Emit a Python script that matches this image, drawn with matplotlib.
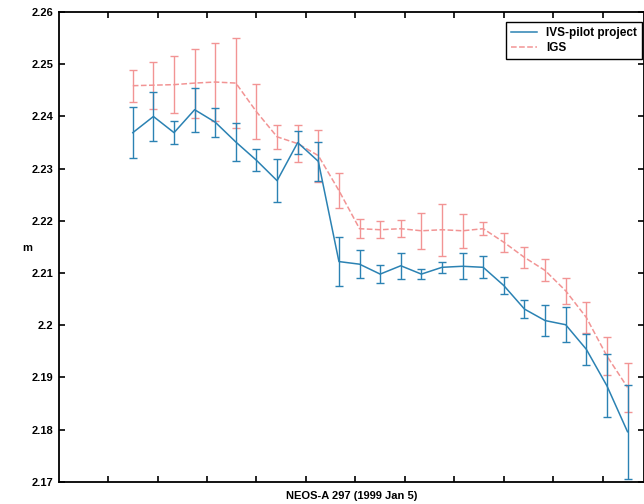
import matplotlib
matplotlib.use("Agg")
from matplotlib import pyplot as plt
from matplotlib.lines import Line2D

# epoch times in minutes, one estimate every 25 min
minutes = [90 + 25 * i for i in range(25)]

ivs_value = [2.2369, 2.2400, 2.2369, 2.2413, 2.2389, 2.2351, 2.2316, 2.2277,
             2.2350, 2.2314, 2.2122, 2.2117, 2.2098, 2.2114, 2.2098, 2.2111,
             2.2113, 2.2111, 2.2076, 2.2031, 2.2009, 2.2001, 2.1954, 2.1884,
             2.1796]
ivs_err = [0.0049, 0.0047, 0.0022, 0.0042, 0.0028, 0.0037, 0.0021, 0.0041,
           0.0022, 0.0038, 0.0047, 0.0027, 0.0018, 0.0025, 0.0009, 0.0010,
           0.0025, 0.0021, 0.0017, 0.0017, 0.0029, 0.0034, 0.0030, 0.0060,
           0.0090]

igs_value = [2.2459, 2.2460, 2.2461, 2.2464, 2.2466, 2.2464, 2.2409, 2.2361,
             2.2348, 2.2325, 2.2258, 2.2185, 2.2183, 2.2185, 2.2181, 2.2183,
             2.2181, 2.2185, 2.2159, 2.2130, 2.2105, 2.2066, 2.2015, 2.1941,
             2.1881]
igs_err = [0.0031, 0.0045, 0.0054, 0.0066, 0.0074, 0.0086, 0.0053, 0.0023,
           0.0036, 0.0050, 0.0034, 0.0018, 0.0016, 0.0016, 0.0034, 0.0050,
           0.0033, 0.0013, 0.0018, 0.0020, 0.0021, 0.0025, 0.0030, 0.0036,
           0.0047]

y_ticks = [2.17, 2.18, 2.19, 2.2, 2.21, 2.22, 2.23, 2.24, 2.25, 2.26]
y_tick_labels = ["2.17", "2.18", "2.19", "2.2", "2.21", "2.22", "2.23",
                 "2.24", "2.25", "2.26"]
x_ticks = [60 * k for k in range(1, 12)]

plt.rcParams["font.family"] = ["Liberation Sans", "DejaVu Sans"]
plt.rcParams["font.weight"] = "bold"

fig = plt.figure(figsize=(6.44, 5.04), dpi=100)
ax = fig.add_axes([0.091, 0.044, 0.909, 0.932])

blue = "#2b82b3"
red = "#f29494"

ax.errorbar(minutes, igs_value, yerr=igs_err, color=red, linestyle="--",
            linewidth=1.1, elinewidth=1.0, capsize=3, capthick=1.0, zorder=2)
ax.errorbar(minutes, ivs_value, yerr=ivs_err, color=blue, linestyle="-",
            linewidth=1.1, elinewidth=1.0, capsize=3, capthick=1.0, zorder=3)

ax.set_xlim(0, 710)
ax.set_ylim(2.17, 2.26)
ax.set_yticks(y_ticks)
ax.set_yticklabels(y_tick_labels, fontsize=8, fontweight="bold")
ax.set_xticks(x_ticks)
ax.set_xticklabels([])
ax.tick_params(direction="in", length=4, width=1.2, top=True, right=True)
for spine in ax.spines.values():
    spine.set_linewidth(1.3)

ax.set_xlabel("NEOS-A 297 (1999 Jan 5)", fontsize=8, fontweight="bold",
              labelpad=3)
ax.set_ylabel("m", fontsize=8, fontweight="bold", rotation=0)
ax.yaxis.set_label_coords(-0.054, 0.487)

# legend shows plain lines, box runs off the right edge like the scan
handles = [Line2D([], [], color=blue, linestyle="-", linewidth=1.1),
           Line2D([], [], color=red, linestyle="--", linewidth=1.1)]
leg = ax.legend(handles, ["IVS-pilot project", "IGS"], loc="upper left",
                bbox_to_anchor=(0.764, 0.979), borderaxespad=0, fontsize=8.5,
                fancybox=False, framealpha=1, edgecolor="black",
                handlelength=2.2, labelspacing=0.3, borderpad=0.4)
leg.get_frame().set_linewidth(1.0)

fig.savefig("out.png", dpi=100)
